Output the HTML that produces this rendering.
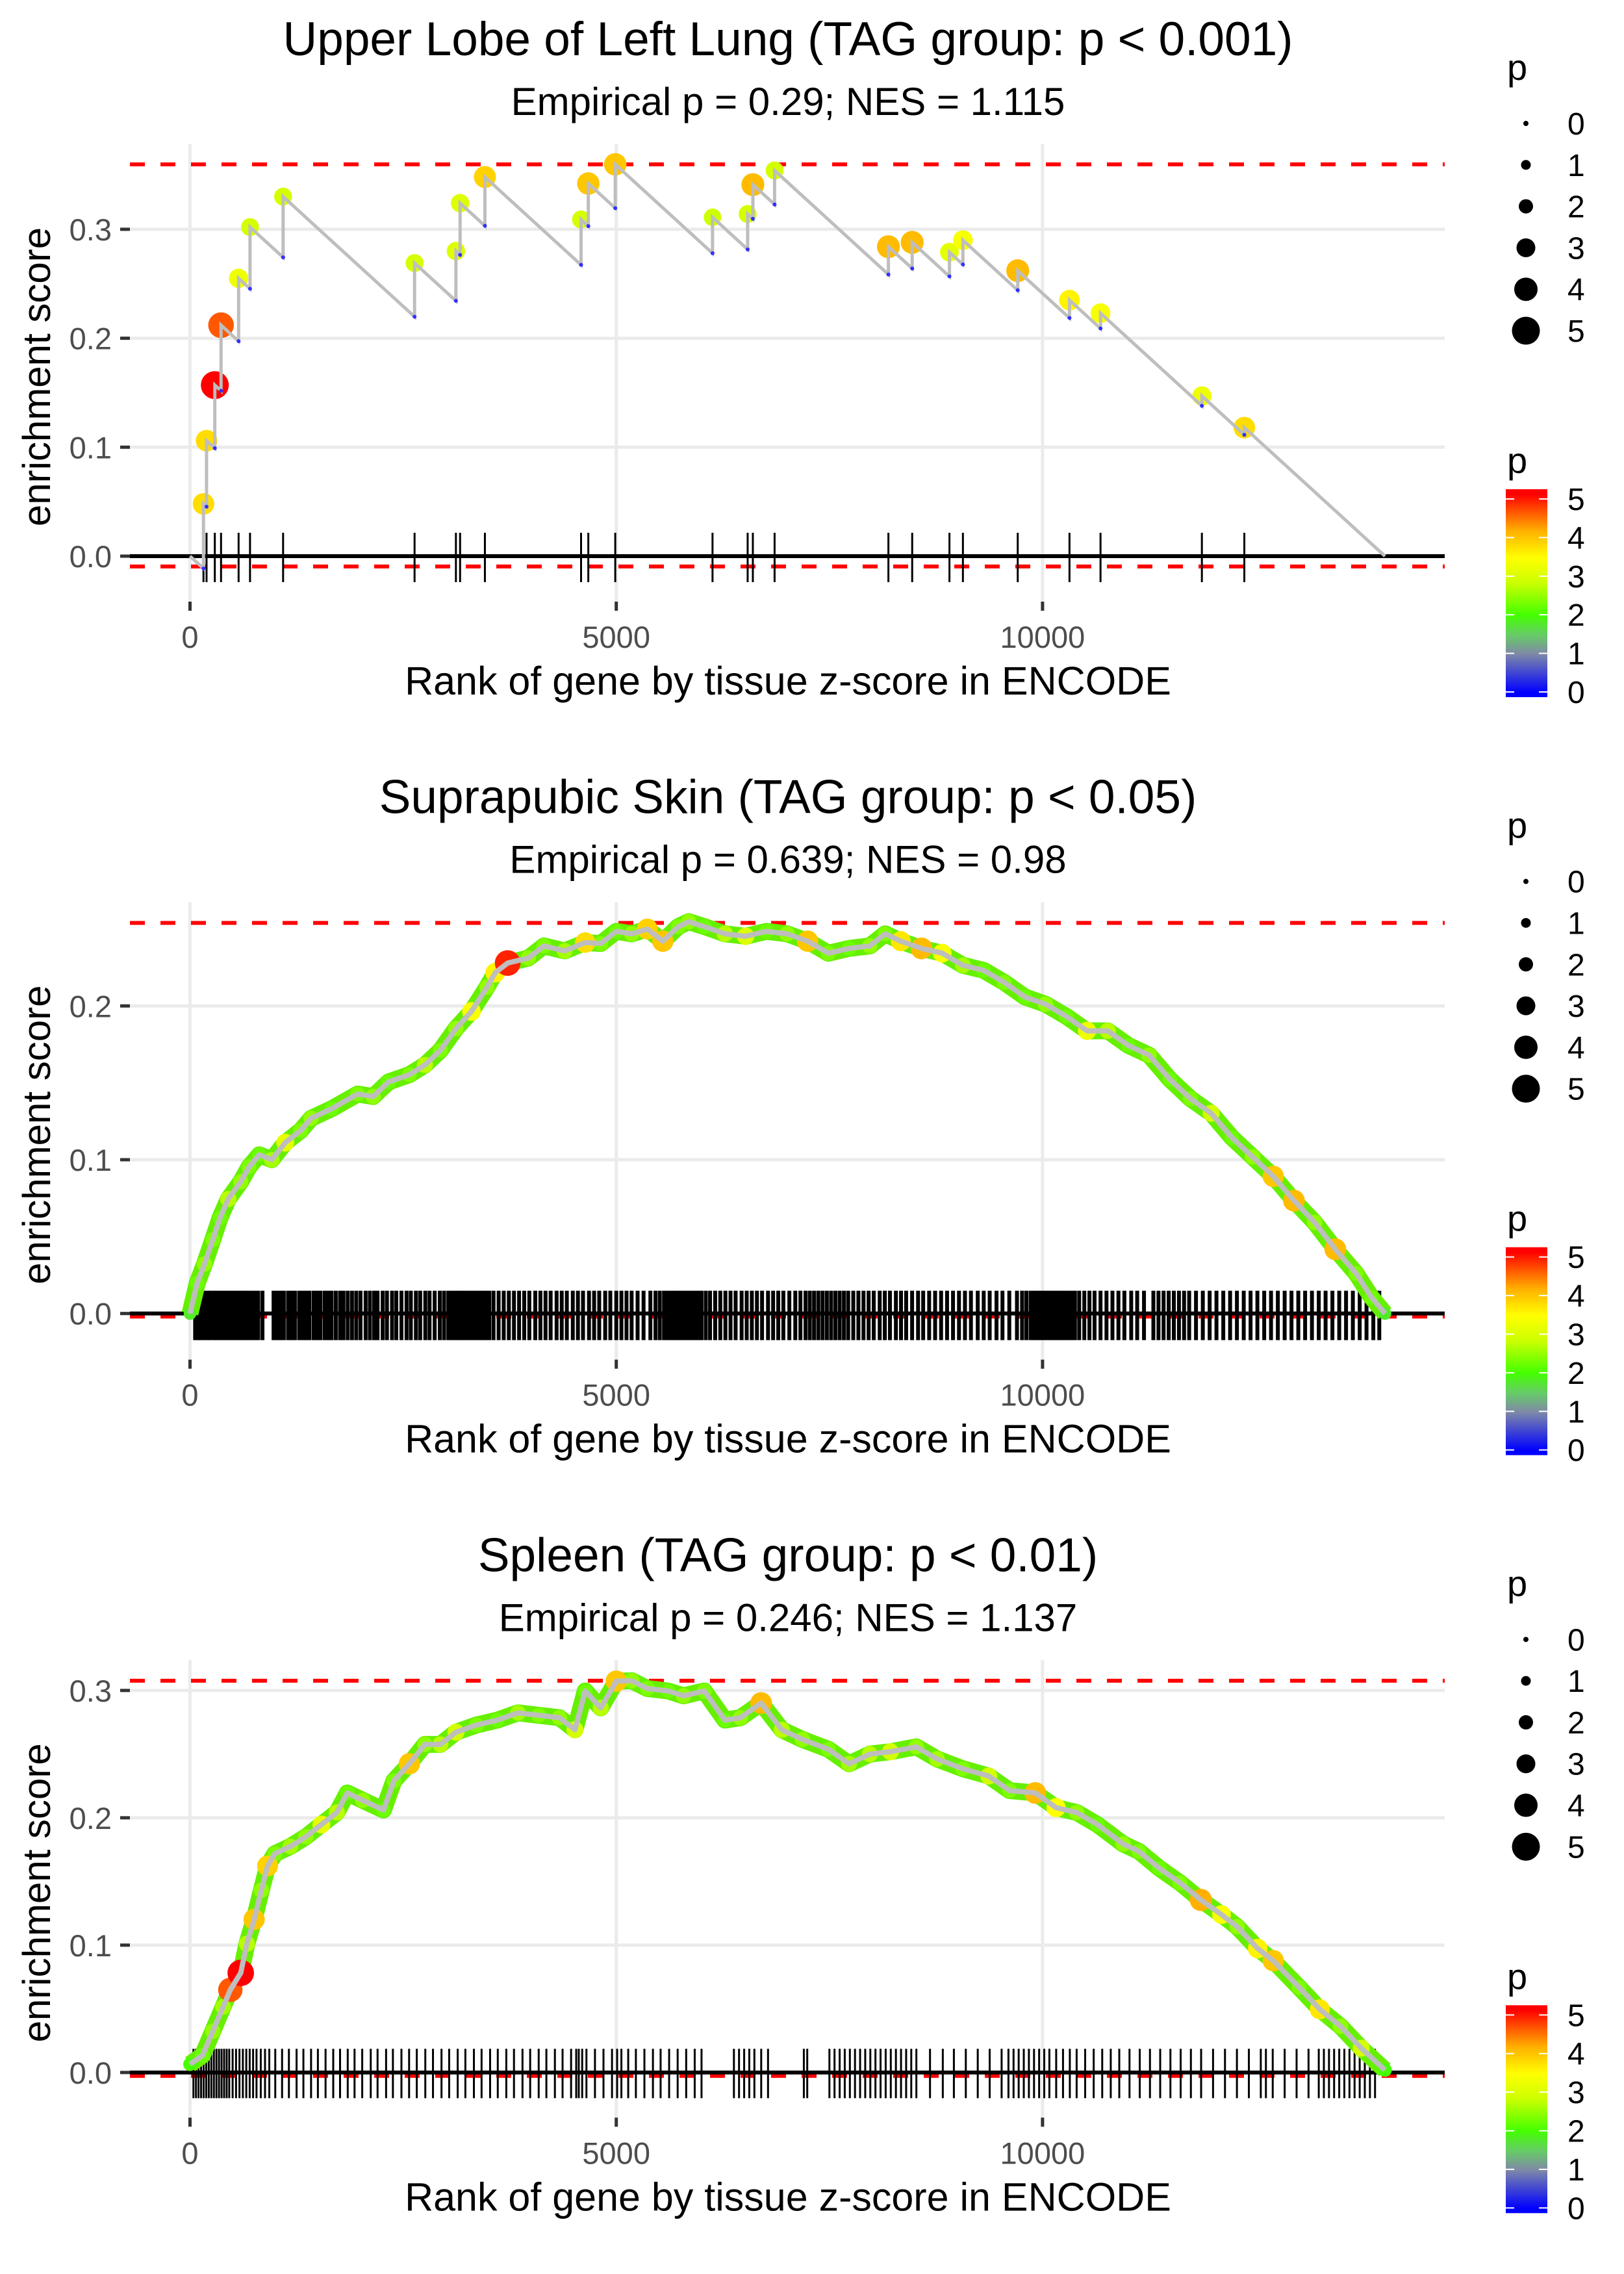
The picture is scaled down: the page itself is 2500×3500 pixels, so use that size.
<!DOCTYPE html>
<html><head><meta charset="utf-8"><title>Enrichment plots</title>
<style>html,body{margin:0;padding:0;background:#fff}svg{display:block}text{font-family:"Liberation Sans",Arial,sans-serif}</style>
</head><body>
<svg id="chart" xmlns="http://www.w3.org/2000/svg" width="2500" height="3500" viewBox="0 0 2500 3500">
<defs>
<linearGradient id="cbar" x1="0" y1="1" x2="0" y2="0">
<stop offset="0.023" stop-color="#0000ff"/><stop offset="0.209" stop-color="#7f8aa6"/><stop offset="0.30" stop-color="#66cc66"/>
<stop offset="0.395" stop-color="#44ff00"/><stop offset="0.55" stop-color="#ccff00"/><stop offset="0.67" stop-color="#ffff00"/>
<stop offset="0.80" stop-color="#ffb000"/><stop offset="0.977" stop-color="#ff0000"/>
</linearGradient>
</defs>
</svg>
<script>
// ---------- data ----------
const totalGenes = 14017;
const xTicks = [0, 5000, 10000];
const xTickLabels = ["0", "5000", "10000"];
const legendP = [0, 1, 2, 3, 4, 5];

const titles = ["Upper Lobe of Left Lung (TAG group: p < 0.001)", "Suprapubic Skin (TAG group: p < 0.05)", "Spleen (TAG group: p < 0.01)"];
const subtitles = ["Empirical p = 0.29; NES = 1.115", "Empirical p = 0.639; NES = 0.98", "Empirical p = 0.246; NES = 1.137"];
const maxES = [0.3596, 0.254, 0.3076];
const minES = [-0.0095, -0.002, -0.0027];
const yTicks1 = [0, 0.1, 0.2, 0.3];
const yTicks2 = [0, 0.1, 0.2];
const yTicks3 = [0, 0.1, 0.2, 0.3];

// panel 1: individual hits
const p1Ranks = [158,194,291,364,570,704,1092,2634,3119,3168,3459,4587,4672,4988,6129,6541,6602,6857,8192,8471,8908,9066,9709,10316,10680,11869,12367];
const p1ES = [0.048,0.106,0.157,0.212,0.255,0.302,0.330,0.269,0.280,0.324,0.348,0.309,0.342,0.3596,0.311,0.314,0.341,0.354,0.284,0.288,0.279,0.290,0.262,0.235,0.223,0.147,0.118];
const p1P = [3.6,3.6,5.0,4.5,3.1,2.8,2.8,2.8,2.9,2.9,3.7,2.8,3.8,3.8,2.7,2.8,3.9,2.8,3.9,3.9,3.0,3.2,3.9,3.4,3.2,3.1,3.6];

// panel 2: running curve
const p2Ranks = [0,85,170,267,352,449,595,692,813,959,1117,1299,1420,1663,1966,2148,2330,2573,2755,2937,3119,3301,3483,3580,3726,3968,4151,4394,4636,4818,5000,5182,5364,5546,5728,5850,6032,6274,6517,6760,7002,7245,7488,7731,7973,8155,8337,8580,8823,9066,9308,9551,9794,10036,10279,10522,10765,11007,11250,11493,11735,11978,12221,12464,12706,12949,13192,13434,13677,13859,14017];
const p2ES = [0,0.0199,0.0322,0.0480,0.0622,0.0745,0.0857,0.0953,0.1032,0.1000,0.1111,0.1190,0.1269,0.1332,0.1427,0.1411,0.1506,0.1553,0.1616,0.1711,0.1853,0.1964,0.2122,0.2216,0.2279,0.2311,0.2390,0.2358,0.2412,0.2406,0.2485,0.2469,0.2500,0.2421,0.2516,0.2548,0.2516,0.2469,0.2453,0.2485,0.2469,0.2421,0.2343,0.2374,0.2390,0.2469,0.2421,0.2374,0.2343,0.2264,0.2232,0.2153,0.2058,0.2011,0.1932,0.1838,0.1838,0.1743,0.1680,0.1523,0.1397,0.1302,0.1144,0.1018,0.0892,0.0734,0.0592,0.0418,0.0261,0.0105,0];
const p2P = [1.8,2.2,2.4,2.3,2.2,2.6,2.4,2.3,2.2,2.5,3.0,2.3,2.4,2.2,2.3,2.4,2.2,2.3,2.6,2.3,2.4,3.2,2.4,3.4,4.8,2.4,2.3,2.5,3.6,2.3,2.2,2.4,3.7,3.8,2.3,2.4,2.2,2.6,2.9,2.2,2.4,3.8,2.3,2.2,2.4,2.3,3.5,3.9,3.2,2.5,2.2,2.3,2.2,2.4,2.2,3.1,2.6,2.2,2.4,2.2,2.3,2.8,2.2,2.4,3.8,3.9,2.4,3.9,2.3,2.2,1.8];
const p2Ticks = [60,95,130,170,205,240,280,310,350,385,420,460,500,530,570,610,640,680,720,760,800,850,980,1020,1060,1100,1150,1190,1230,1280,1320,1360,1400,1450,1490,1530,1580,1620,1660,1710,1760,1800,1850,1900,1950,2000,2060,2110,2160,2200,2260,2310,2370,2420,2480,2540,2590,2650,2700,2760,2810,2870,2930,2980,3030,3070,3110,3150,3190,3230,3270,3310,3350,3390,3430,3470,3510,3560,3620,3680,3740,3800,3860,3920,3980,4050,4110,4170,4230,4300,4360,4420,4490,4550,4610,4680,4740,4800,4870,4930,5000,5060,5120,5180,5250,5320,5400,5460,5510,5560,5600,5640,5680,5720,5760,5800,5840,5880,5920,5960,6000,6050,6100,6160,6220,6280,6340,6400,6470,6530,6590,6650,6710,6780,6840,6900,6960,7030,7100,7160,7220,7270,7320,7370,7420,7470,7520,7570,7620,7670,7720,7780,7840,7900,7960,8020,8090,8150,8210,8280,8340,8400,8470,8540,8600,8670,8740,8810,8880,8950,9020,9090,9160,9240,9310,9380,9460,9530,9610,9700,9760,9810,9860,9900,9940,9980,10020,10060,10100,10140,10180,10220,10260,10300,10340,10380,10430,10490,10550,10610,10680,10750,10820,10890,10960,11040,11110,11190,11300,11360,11420,11480,11540,11600,11660,11720,11800,11880,11960,12040,12120,12200,12280,12360,12440,12520,12600,12680,12760,12840,12920,13000,13080,13160,13240,13320,13400,13480,13560,13640,13720,13800,13880,13950];

// panel 3: running curve
const p3Ranks = [0,146,267,388,473,595,667,752,837,910,995,1177,1359,1541,1723,1845,2027,2269,2391,2573,2755,2937,3119,3362,3604,3847,4090,4333,4515,4636,4818,5000,5182,5364,5607,5789,6032,6274,6456,6699,6942,7184,7488,7731,7973,8216,8519,8762,9066,9369,9612,9915,10158,10400,10643,10947,11129,11371,11614,11857,12099,12282,12524,12706,13010,13252,13495,13738,14017];
const p3ES = [0.0065,0.0134,0.0324,0.0515,0.0649,0.0782,0.1011,0.1202,0.1431,0.1622,0.1718,0.1775,0.1851,0.1947,0.2042,0.2195,0.2137,0.2061,0.2290,0.2424,0.2576,0.2576,0.2672,0.2729,0.2767,0.2824,0.2805,0.2786,0.2691,0.2996,0.2863,0.3073,0.3076,0.3015,0.2996,0.2958,0.2996,0.2767,0.2786,0.2901,0.2691,0.2615,0.2538,0.2424,0.2500,0.2519,0.2557,0.2462,0.2385,0.2328,0.2214,0.2195,0.2080,0.2042,0.1947,0.1794,0.1737,0.1603,0.1489,0.1355,0.1240,0.1145,0.0973,0.0878,0.0668,0.0496,0.0363,0.0191,0.0019];
const p3P = [2.0,2.2,2.4,2.5,4.5,5.0,2.6,3.8,2.4,3.7,2.3,2.5,2.4,3.0,2.6,2.2,2.4,2.2,2.3,3.8,2.4,2.6,2.8,2.3,2.2,2.5,2.3,2.4,2.8,2.2,2.6,3.8,2.4,2.3,2.2,2.4,2.3,2.2,2.4,3.9,2.6,2.4,2.3,2.5,2.6,2.8,2.4,2.5,2.3,2.8,2.3,3.9,3.3,2.4,2.2,2.4,2.3,2.2,2.3,4.0,3.2,2.4,3.4,3.8,2.3,3.5,2.4,2.8,2.0];
const p3Ticks = [40,70,100,130,160,190,220,250,280,310,340,370,400,430,460,500,540,580,620,660,700,740,780,830,880,930,1000,1080,1160,1250,1330,1420,1500,1590,1680,1760,1850,1930,2020,2120,2200,2300,2380,2480,2570,2660,2760,2850,2950,3040,3140,3230,3330,3420,3520,3610,3710,3800,3900,3990,4090,4180,4280,4370,4470,4530,4560,4600,4650,4750,4850,4950,5010,5060,5140,5230,5330,5430,5520,5620,5720,5820,5920,6000,6380,6440,6500,6560,6620,6700,6780,7200,7240,7500,7560,7620,7680,7740,7800,7860,7920,7980,8040,8100,8160,8220,8280,8340,8400,8460,8520,8680,8830,8960,9100,9240,9380,9520,9600,9660,9720,9780,9840,9900,9960,10020,10080,10160,10240,10320,10400,10500,10600,10700,10800,10900,11020,11140,11260,11380,11500,11620,11740,11860,12000,12140,12280,12420,12560,12620,12700,12840,12980,13120,13240,13300,13360,13420,13480,13540,13600,13660,13720,13780,13840,13900];

// ---------- helpers ----------
const NS = "http://www.w3.org/2000/svg";
const svg = document.getElementById("chart");
function mk(tag, attrs, parent) {
  const e = document.createElementNS(NS, tag);
  for (const k in attrs) e.setAttribute(k, attrs[k]);
  (parent || svg).appendChild(e);
  return e;
}
const colStops = [[0,[0,0,255]],[1,[127,138,166]],[1.5,[102,204,102]],[2,[68,255,0]],[2.7,[204,255,0]],[3.3,[255,255,0]],[4,[255,176,0]],[5,[255,0,0]]];
function pColor(p) {
  for (let i = 1; i < colStops.length; i++) {
    if (p <= colStops[i][0]) {
      const a = colStops[i-1], b = colStops[i], t = (p - a[0]) / (b[0] - a[0]);
      const c = a[1].map((v, j) => Math.round(v + (b[1][j] - v) * t));
      return "rgb(" + c.join(",") + ")";
    }
  }
  return "rgb(255,0,0)";
}
function pRadius(p) { return 4 + 3.5 * p; }

const PLOT_L = 200, PLOT_R = 2224, PLOT_T = 222, PLOT_B = 928;
const X0 = 292.5, XK = (948.7 - 292.5) / 5000;
const CX = 1213;
function xs(r) { return X0 + r * XK; }
const panelH = 3500 / 3;
const yZero = [856, 855, 856.5];
const yK = [1677, 2367, 1960];

function drawPanel(i, yTicks, draw) {
  const off = i * panelH;
  const ys = v => off + yZero[i] - v * yK[i];
  const g = mk("g", {});
  
  
  const t = mk("text", {x: CX, y: off + 85, "font-size": 73, "text-anchor": "middle", fill: "#000"}, g);
  
  
  t.textContent = titles[i];
  const st = mk("text", {x: CX, y: off + 177, "font-size": 60, "text-anchor": "middle", fill: "#000"}, g);
  
  
  st.textContent = subtitles[i];
  yTicks.forEach(v => {
    const gl = mk("line", {x1: PLOT_L, x2: PLOT_R, y1: ys(v), y2: ys(v), stroke: "#ebebeb", "stroke-width": 5}, g);
    
    
    const tk = mk("line", {x1: 185, x2: 200, y1: ys(v), y2: ys(v), stroke: "#333", "stroke-width": 5}, g);
    
    
    const tl = mk("text", {x: 172, y: ys(v) + 17, "font-size": 47, "text-anchor": "end", fill: "#4d4d4d"}, g);
    
    
    tl.textContent = v.toFixed(1);
  });
  xTicks.forEach((r, k) => {
    const gl = mk("line", {x1: xs(r), x2: xs(r), y1: off + PLOT_T, y2: off + PLOT_B, stroke: "#ebebeb", "stroke-width": 5}, g);
    
    
    const tk = mk("line", {x1: xs(r), x2: xs(r), y1: off + 926, y2: off + 940, stroke: "#333", "stroke-width": 5}, g);
    
    
    const tl = mk("text", {x: xs(r), y: off + 997, "font-size": 47, "text-anchor": "middle", fill: "#4d4d4d"}, g);
    
    
    tl.textContent = xTickLabels[k];
  });
  const xl = mk("text", {x: CX, y: off + 1069, "font-size": 61, "text-anchor": "middle", fill: "#000"}, g);
  
  
  xl.textContent = "Rank of gene by tissue z-score in ENCODE";
  const yl = mk("text", {x: 0, y: 0, "font-size": 60, "text-anchor": "middle", fill: "#000", transform: "translate(77," + (off + 580) + ") rotate(-90)"}, g);
  
  
  yl.textContent = "enrichment score";
  [maxES[i], minES[i]].forEach((v, k) => {
    const rl = mk("line", {x1: PLOT_L, x2: PLOT_R, y1: ys(v), y2: ys(v), stroke: "#ff0000", "stroke-width": 6, "stroke-dasharray": "23 24"}, g);
    
    
  });
  draw(g, off, ys);
  const lt = mk("text", {x: 2320, y: off + 123, "font-size": 56, fill: "#000"}, g);
  
  
  lt.textContent = "p";
  legendP.forEach((p, k) => {
    const c = mk("circle", {cx: 2349, cy: off + 190 + k * 63.8, r: pRadius(p), fill: "#000"}, g);
    
    
    const tx = mk("text", {x: 2413, y: off + 190 + k * 63.8 + 17, "font-size": 48, fill: "#000"}, g);
    
    
    tx.textContent = String(p);
  });
  const ct = mk("text", {x: 2320, y: off + 728, "font-size": 56, fill: "#000"}, g);
  
  
  ct.textContent = "p";
  const bar = mk("rect", {x: 2318, y: off + 753, width: 64, height: 320, fill: "url(#cbar)"}, g);
  
  
  legendP.forEach(p => {
    const yy = off + 1065 - p * 59.4;
    [[2318, 2331], [2369, 2382]].forEach(seg => {
      const m = mk("line", {x1: seg[0], x2: seg[1], y1: yy, y2: yy, stroke: "#fff", "stroke-width": 2}, g);
      
      
    });
    const tx = mk("text", {x: 2413, y: yy + 17, "font-size": 48, fill: "#000"}, g);
    
    
    tx.textContent = String(p);
  });
}

function drawTicks(g, off, ticks, w) {
  ticks.forEach(r => {
    const l = mk("line", {x1: xs(r), x2: xs(r), y1: off + 820, y2: off + 896, stroke: "#000", "stroke-width": w}, g);
    
    
  });
}
function drawZeroLine(g, ys) {
  const z = mk("line", {x1: PLOT_L, x2: PLOT_R, y1: ys(0), y2: ys(0), stroke: "#000", "stroke-width": 6}, g);
  
  
}

drawPanel(0, yTicks1, (g, off, ys) => {
  const last = p1ES.length - 1;
  const decay = p1ES[last] / (totalGenes - p1Ranks[last]);
  let pts = [[xs(0), ys(0)]], bottoms = [];
  let prevR = 0, prevE = 0;
  p1Ranks.forEach((r, k) => {
    const pre = prevE - decay * (r - prevR);
    pts.push([xs(r), ys(pre)]); bottoms.push([xs(r), ys(pre)]);
    pts.push([xs(r), ys(p1ES[k])]);
    prevR = r; prevE = p1ES[k];
  });
  pts.push([xs(totalGenes), ys(prevE - decay * (totalGenes - prevR))]);
  drawTicks(g, off, p1Ranks, 3);
  drawZeroLine(g, ys);
  p1Ranks.forEach((r, k) => {
    const c = mk("circle", {cx: xs(r), cy: ys(p1ES[k]), r: pRadius(p1P[k]), fill: pColor(p1P[k])}, g);
    
    
  });
  const line = mk("polyline", {points: pts.map(p => p.join(",")).join(" "), fill: "none", stroke: "#bebebe", "stroke-width": 5}, g);
  
  
  bottoms.forEach(b => {
    const c = mk("circle", {cx: b[0], cy: b[1], r: 3, fill: "#3030ff"}, g);
    
    
  });
});

function curvePanel(idx, yT, ranks, es, ps, ticks, tw) {
  drawPanel(idx, yT, (g, off, ys) => {
    drawTicks(g, off, ticks, tw);
    drawZeroLine(g, ys);
    const ptsStr = ranks.map((r, k) => xs(r) + "," + ys(es[k])).join(" ");
    const band = mk("polyline", {points: ptsStr, fill: "none", stroke: "#66f000", "stroke-width": 26, "stroke-linejoin": "round"}, g);
    
    
    const order = ranks.map((r, k) => k).sort((a, b) => ps[a] - ps[b]);
    order.forEach(k => {
      const c = mk("circle", {cx: xs(ranks[k]), cy: ys(es[k]), r: pRadius(ps[k]) * 0.95, fill: pColor(ps[k])}, g);
      
      
    });
    const line = mk("polyline", {points: ptsStr, fill: "none", stroke: "#bebebe", "stroke-width": 8, "stroke-linejoin": "round"}, g);
    
    
  });
}
curvePanel(1, yTicks2, p2Ranks, p2ES, p2P, p2Ticks, 6);
curvePanel(2, yTicks3, p3Ranks, p3ES, p3P, p3Ticks, 3);
</script>
</body></html>
